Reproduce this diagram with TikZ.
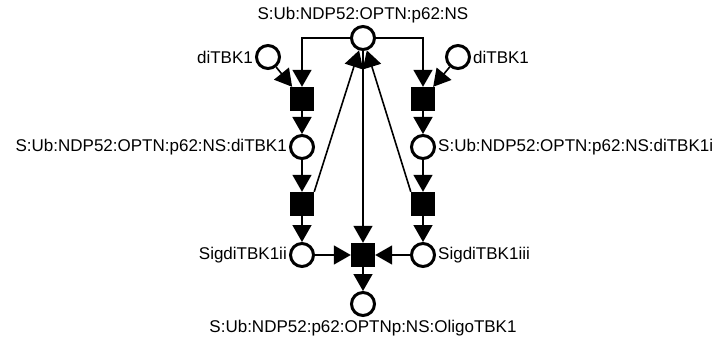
\documentclass[tikz,border=0pt]{standalone}
\usepackage{fontspec}
\setmainfont{Liberation Sans}
\usepackage{tikz}
\usetikzlibrary{arrows.meta}
\tikzset{
    place/.style={
        draw,
        circle,
        fill=white,
        line width=3pt,
        minimum size=23pt,
        inner sep=0pt
    },
    trans/.style={
        rectangle,
        fill=black,
        minimum size=24pt,
        inner sep=0pt
    },
    arc/.style={
        draw,
        line width=1.6pt,
        -{Triangle[length=17pt, width=19pt]}
    },
    every label/.style={font=\fontsize{17}{20}\selectfont, inner sep=2pt}
}

\begin{document}
\begin{tikzpicture}[x=1pt, y=-1pt]
    \useasboundingbox (0,0) rectangle (715,342);

    % Places
    \node[place, label=above:{S:Ub:NDP52:OPTN:p62:NS}] (top) at (363,38) {};
    \node[place, label=left:{diTBK1}] (dl) at (268,57) {};
    \node[place, label=right:{diTBK1}] (dr) at (458,57) {};
    \node[place, label=left:{S:Ub:NDP52:OPTN:p62:NS:diTBK1}] (pl) at (302,147) {};
    \node[place, label=right:{S:Ub:NDP52:OPTN:p62:NS:diTBK1i}] (pr) at (423,147) {};
    \node[place, label=left:{SigdiTBK1ii}] (sl) at (302,255) {};
    \node[place, label=right:{SigdiTBK1iii}] (sr) at (423,255) {};
    \node[place, label={[inner sep=3pt]below:{S:Ub:NDP52:p62:OPTNp:NS:OligoTBK1}}] (bot) at (363,304) {};

    % Transitions
    \node[trans] (t1l) at (302,99) {};
    \node[trans] (t1r) at (423,99) {};
    \node[trans] (t2l) at (302,204) {};
    \node[trans] (t2r) at (423,204) {};
    \node[trans] (tc) at (363,255) {};

    % Arcs
    \draw[arc] (top.west) -| (t1l);
    \draw[arc] (top.east) -| (t1r);
    \draw[arc] (dl) -- (t1l);
    \draw[arc] (dr) -- (t1r);
    \draw[arc] (t1l) -- (pl);
    \draw[arc] (t1r) -- (pr);
    \draw[arc] (pl) -- (t2l);
    \draw[arc] (pr) -- (t2r);
    \draw[arc] (t2l.north east) -- (top);
    \draw[arc] (t2r.north west) -- (top);
    \draw[arc] (t2l) -- (sl);
    \draw[arc] (t2r) -- (sr);
    \draw[arc] (top) -- (tc);
    \draw[arc] (sl) -- (tc);
    \draw[arc] (sr) -- (tc);
    \draw[arc] (tc) -- (bot);
\end{tikzpicture}
\end{document}
